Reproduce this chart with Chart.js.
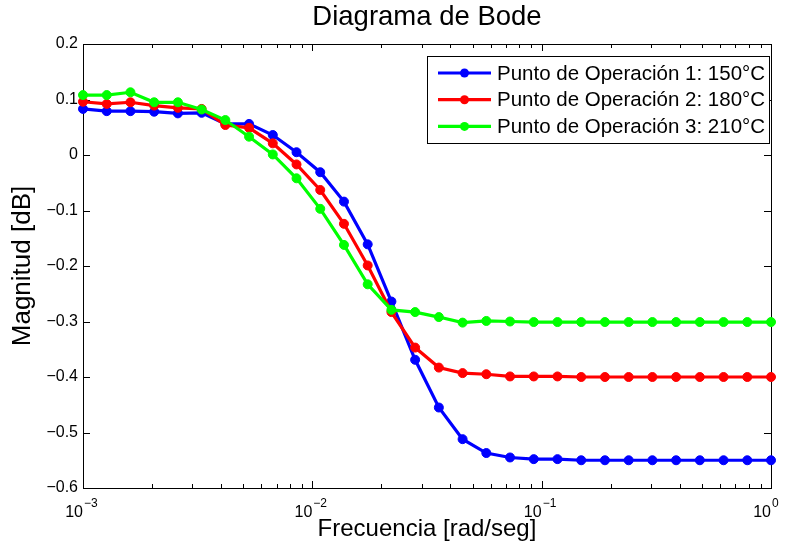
<!DOCTYPE html>
<html lang="es">
<head>
  <meta charset="UTF-8">
  <title>Diagrama de Bode</title>
  <script src="https://cdn.jsdelivr.net/npm/chart.js"></script>
  <style>
    body { margin: 0; background: #fff; }
    #chart-container { width: 787px; height: 548px; }
  </style>
</head>
<body>
  <div id="chart-container">
    <canvas id="chart" width="787" height="548"></canvas>
  </div>

  <script>
    // Frecuencias (rad/seg), 30 puntos entre 1e-3 y 1e0
    const frecuencias = [
      0.001, 0.0012690, 0.0016103, 0.0020434, 0.0025929, 0.0032903,
      0.0041753, 0.0052983, 0.0067234, 0.0085317, 0.010827, 0.013738,
      0.017433, 0.022122, 0.028072, 0.035622, 0.045204, 0.057362,
      0.072790, 0.092367, 0.11721, 0.14874, 0.18874, 0.23950,
      0.30392, 0.38566, 0.48939, 0.62102, 0.78805, 1.0
    ];

    // Magnitud [dB]
    const magnitud150 = [
      0.083, 0.079, 0.079, 0.078, 0.075, 0.076, 0.056, 0.056, 0.036, 0.005,
      -0.031, -0.084, -0.161, -0.264, -0.369, -0.455, -0.512, -0.537, -0.545, -0.548,
      -0.548, -0.550, -0.550, -0.550, -0.550, -0.550, -0.550, -0.550, -0.550, -0.550
    ];
    const magnitud180 = [
      0.096, 0.092, 0.095, 0.089, 0.085, 0.083, 0.054, 0.049, 0.021, -0.017,
      -0.063, -0.124, -0.199, -0.283, -0.347, -0.383, -0.393, -0.395, -0.399, -0.399,
      -0.399, -0.400, -0.400, -0.400, -0.400, -0.400, -0.400, -0.400, -0.400, -0.400
    ];
    const magnitud210 = [
      0.108, 0.108, 0.113, 0.095, 0.095, 0.082, 0.063, 0.033, 0.001, -0.042,
      -0.097, -0.162, -0.233, -0.279, -0.283, -0.292, -0.302, -0.299, -0.300, -0.301,
      -0.301, -0.301, -0.301, -0.301, -0.301, -0.301, -0.301, -0.301, -0.301, -0.301
    ];

    const etiquetas = [
      'Punto de Operación 1: 150°C',
      'Punto de Operación 2: 180°C',
      'Punto de Operación 3: 210°C'
    ];
    const colores = ['#0000ff', '#ff0000', '#00ff00'];
    const exponentesX = [-3, -2, -1, 0];

    const FONT = '"Liberation Sans", Arial, Helvetica, sans-serif';
    Chart.defaults.font.family = FONT;
    Chart.defaults.color = '#000';

    const toPoints = ys => frecuencias.map((f, i) => ({ x: f, y: ys[i] }));

    const series = [magnitud150, magnitud180, magnitud210];
    const datasets = series.map((ys, i) => ({
      label: etiquetas[i],
      data: toPoints(ys),
      borderColor: colores[i],
      backgroundColor: colores[i],
      borderWidth: 3.2,
      pointRadius: 4.5,
      pointBorderWidth: 1,
      pointHoverRadius: 4.5,
      tension: 0,
      clip: 8,
      order: 3 - i   // verde encima, como en MATLAB
    }));

    // Marco tipo MATLAB: caja, ticks hacia dentro y etiquetas 10^n
    const marcoPlugin = {
      id: 'marco',
      beforeDatasetsDraw(chart) {
        const { ctx, chartArea: a } = chart;
        const xs = chart.scales.x, ys = chart.scales.y;
        ctx.save();
        ctx.strokeStyle = '#000';
        ctx.lineWidth = 1;
        ctx.beginPath();
        // ticks y cada 0.1
        ys.ticks.forEach(t => {
          const py = Math.round(ys.getPixelForValue(t.value)) + 0.5;
          ctx.moveTo(a.left, py); ctx.lineTo(a.left + 7, py);
          ctx.moveTo(a.right, py); ctx.lineTo(a.right - 7, py);
        });
        // ticks x (logarítmicos)
        exponentesX.forEach(e => {
          for (let m = 1; m <= 9; m++) {
            const v = m * Math.pow(10, e);
            if (v > 1.0000001) break;
            const px = Math.round(xs.getPixelForValue(v)) + 0.5;
            const len = m === 1 ? 7 : 4;
            ctx.moveTo(px, a.bottom); ctx.lineTo(px, a.bottom - len);
            ctx.moveTo(px, a.top); ctx.lineTo(px, a.top + len);
          }
        });
        ctx.stroke();
        ctx.strokeRect(Math.round(a.left) + 0.5, Math.round(a.top) + 0.5,
                       Math.round(a.right - a.left), Math.round(a.bottom - a.top));

        // etiquetas del eje x con superíndice
        ctx.fillStyle = '#000';
        ctx.textBaseline = 'alphabetic';
        exponentesX.forEach(e => {
          const px = xs.getPixelForValue(Math.pow(10, e));
          ctx.font = '16px ' + FONT;
          ctx.textAlign = 'right';
          ctx.fillText('10', px, 517);
          ctx.font = '12px ' + FONT;
          ctx.textAlign = 'left';
          ctx.fillText(e < 0 ? '\u2212' + Math.abs(e) : String(e), px + 1, 507);
        });
        ctx.restore();
      },
      afterDatasetsDraw(chart) {
        // leyenda con caja
        const { ctx } = chart;
        const box = { left: 427, top: 56, right: 769, bottom: 143 };
        ctx.save();
        ctx.fillStyle = '#fff';
        ctx.fillRect(box.left, box.top, box.right - box.left, box.bottom - box.top);
        ctx.strokeStyle = '#000';
        ctx.lineWidth = 1;
        ctx.strokeRect(box.left + 0.5, box.top + 0.5, box.right - box.left, box.bottom - box.top);
        chart.data.datasets.forEach((ds, i) => {
          const cy = 73 + i * 26.7;
          ctx.strokeStyle = ds.borderColor;
          ctx.lineWidth = 3.2;
          ctx.beginPath();
          ctx.moveTo(438, cy); ctx.lineTo(491, cy);
          ctx.stroke();
          ctx.fillStyle = ds.borderColor;
          ctx.beginPath();
          ctx.arc(464.5, cy, 4.5, 0, Math.PI * 2);
          ctx.fill();
          ctx.fillStyle = '#000';
          ctx.font = '20.5px ' + FONT;
          ctx.textAlign = 'left';
          ctx.textBaseline = 'middle';
          ctx.fillText(ds.label, 497, cy + 1);
        });
        ctx.restore();
      }
    };

    const ctx = document.getElementById('chart').getContext('2d');
    new Chart(ctx, {
      type: 'line',
      data: { datasets },
      options: {
        responsive: false,
        animation: false,
        layout: { padding: { left: 0, right: 16, top: 0, bottom: 0 } },
        plugins: {
          legend: { display: false },
          tooltip: { enabled: false },
          title: {
            display: true,
            fullSize: false,
            text: 'Diagrama de Bode',
            color: '#000',
            font: { size: 27.5, weight: 'normal' },
            padding: { top: 1, bottom: 10 }
          }
        },
        scales: {
          x: {
            type: 'logarithmic',
            min: 0.001,
            max: 1,
            grid: { display: false, drawTicks: false },
            border: { display: false },
            ticks: { display: false },
            title: {
              display: true,
              text: 'Frecuencia [rad/seg]',
              font: { size: 24 },
              padding: { top: 0, bottom: 4 }
            },
            afterFit: s => { s.height = 60; }
          },
          y: {
            type: 'linear',
            min: -0.6,
            max: 0.2,
            grid: { display: false, drawTicks: false },
            border: { display: false },
            ticks: {
              stepSize: 0.1,
              padding: 5,
              font: { size: 16 },
              callback: v => {
                const r = Math.round(v * 10) / 10;
                if (r === 0) return '0';
                return r.toFixed(1).replace('-', '\u2212');
              }
            },
            title: {
              display: true,
              text: 'Magnitud [dB]',
              font: { size: 26 },
              padding: { top: 7, bottom: 0 }
            },
            afterFit: s => { s.width = 83; }
          }
        }
      },
      plugins: [marcoPlugin]
    });
  </script>
</body>
</html>
